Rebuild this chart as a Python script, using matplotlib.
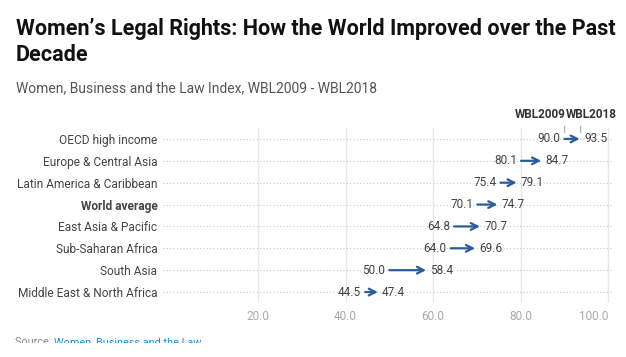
import matplotlib
matplotlib.use("Agg")
import matplotlib.pyplot as plt
from matplotlib.transforms import Bbox, TransformedBbox

regions = ["OECD high income", "Europe & Central Asia", "Latin America & Caribbean",
           "World average", "East Asia & Pacific", "Sub-Saharan Africa", "South Asia",
           "Middle East & North Africa"]
wbl2009 = [90.0, 80.1, 75.4, 70.1, 64.8, 64.0, 50.0, 44.5]
wbl2018 = [93.5, 84.7, 79.1, 74.7, 70.7, 69.6, 58.4, 47.4]
xticks = [20, 40, 60, 80, 100]

plt.rcParams['font.family'] = ['Roboto', 'DejaVu Sans']

W, H = 626, 357
fig = plt.figure(figsize=(W/100, H/100), dpi=100)

def px(x, y):
    return x / W, 1 - y / H

ax = fig.add_axes([163/W, 1 - 303/H, (613-163)/W, (303-128)/H])
ax.set_xlim(-1.7, 101.1)
n = len(regions)
ax.set_ylim(n - 0.5, -0.5)
for s in ax.spines.values():
    s.set_visible(False)

for xv in xticks:
    ax.axvline(xv, color='#e6e6e6', lw=1, zorder=0)
for i in range(n):
    ax.axhline(i, color='#cccccc', lw=0.8, ls=(0, (1, 2)), zorder=0)

arrow_c = '#2a5b9b'
for i, (a, b) in enumerate(zip(wbl2009, wbl2018)):
    ax.annotate('', xy=(b, i), xytext=(a, i),
                arrowprops=dict(arrowstyle='->', color=arrow_c, lw=1.6,
                                shrinkA=0, shrinkB=0, mutation_scale=12))
    ax.annotate(f"{a:.1f}", xy=(a, i), xytext=(-3, 0), textcoords='offset points',
                ha='right', va='center', fontsize=8.5, color='#444444')
    ax.annotate(f"{b:.1f}", xy=(b, i), xytext=(3, 0), textcoords='offset points',
                ha='left', va='center', fontsize=8.5, color='#444444')

ax.set_yticks(range(n))
ax.set_yticklabels(regions, fontsize=8.6, color='#444444')
for lab in ax.get_yticklabels():
    if lab.get_text() == "World average":
        lab.set_fontweight('bold')
ax.tick_params(axis='y', length=0, pad=4)
ax.set_xticks(xticks)
ax.set_xticklabels([f"{v:.1f}" for v in xticks], fontsize=8.5, color='#aaaaaa')
ax.get_xticklabels()[-1].set_ha('right')
ax.tick_params(axis='x', length=0, pad=5)

# header labels
ax.annotate("WBL2009", xy=(wbl2009[0], -0.5), xytext=(1, 10), textcoords='offset points',
            ha='right', va='center', fontsize=8.5, fontweight='bold', color='#333333',
            annotation_clip=False)
ax.annotate("WBL2018", xy=(wbl2009[0], -0.5), xytext=(1, 10), textcoords='offset points',
            ha='left', va='center', fontsize=8.5, fontweight='bold', color='#333333',
            annotation_clip=False)
for xv in (wbl2009[0], wbl2018[0]):
    ax.plot([xv, xv], [-0.5 - 0.1, -0.5 + 0.2], color='#bbbbbb', lw=1, clip_on=False)

title1 = fig.text(*px(16, 29), "Women\u2019s Legal Rights: How the World Improved over the Past",
                  fontsize=14, fontweight='bold', color='#111111', va='center', ha='left')
title2 = fig.text(*px(16, 55), "Decade", fontsize=14, fontweight='bold', color='#111111',
                  va='center', ha='left')
sub = fig.text(*px(16, 88), "Women, Business and the Law Index, WBL2009 - WBL2018",
               fontsize=10, color='#555555', va='center', ha='left')

# fit widths to the reference layout
fig.canvas.draw()
r = fig.canvas.get_renderer()
wt = title1.get_window_extent(r).width
s = 14 * 602 / wt
title1.set_fontsize(s)
title2.set_fontsize(s)
ws = sub.get_window_extent(r).width
sub.set_fontsize(10 * 362 / ws)

clip = TransformedBbox(Bbox([[0, 1 - 343/H], [1, 1]]), fig.transFigure)
t = fig.text(*px(15, 342), "Source: ", fontsize=7.8, color='#888888', va='center', ha='left')
t.set_clip_box(clip)
t.set_clip_on(True)
fig.canvas.draw()
bb = t.get_window_extent()
t2 = fig.text(bb.x1 / W, 1 - 342/H, "Women, Business and the Law", fontsize=7.8,
              color='#1f8dd6', va='center', ha='left')
t2.set_clip_box(clip)
t2.set_clip_on(True)

fig.savefig("out.png", dpi=100)
